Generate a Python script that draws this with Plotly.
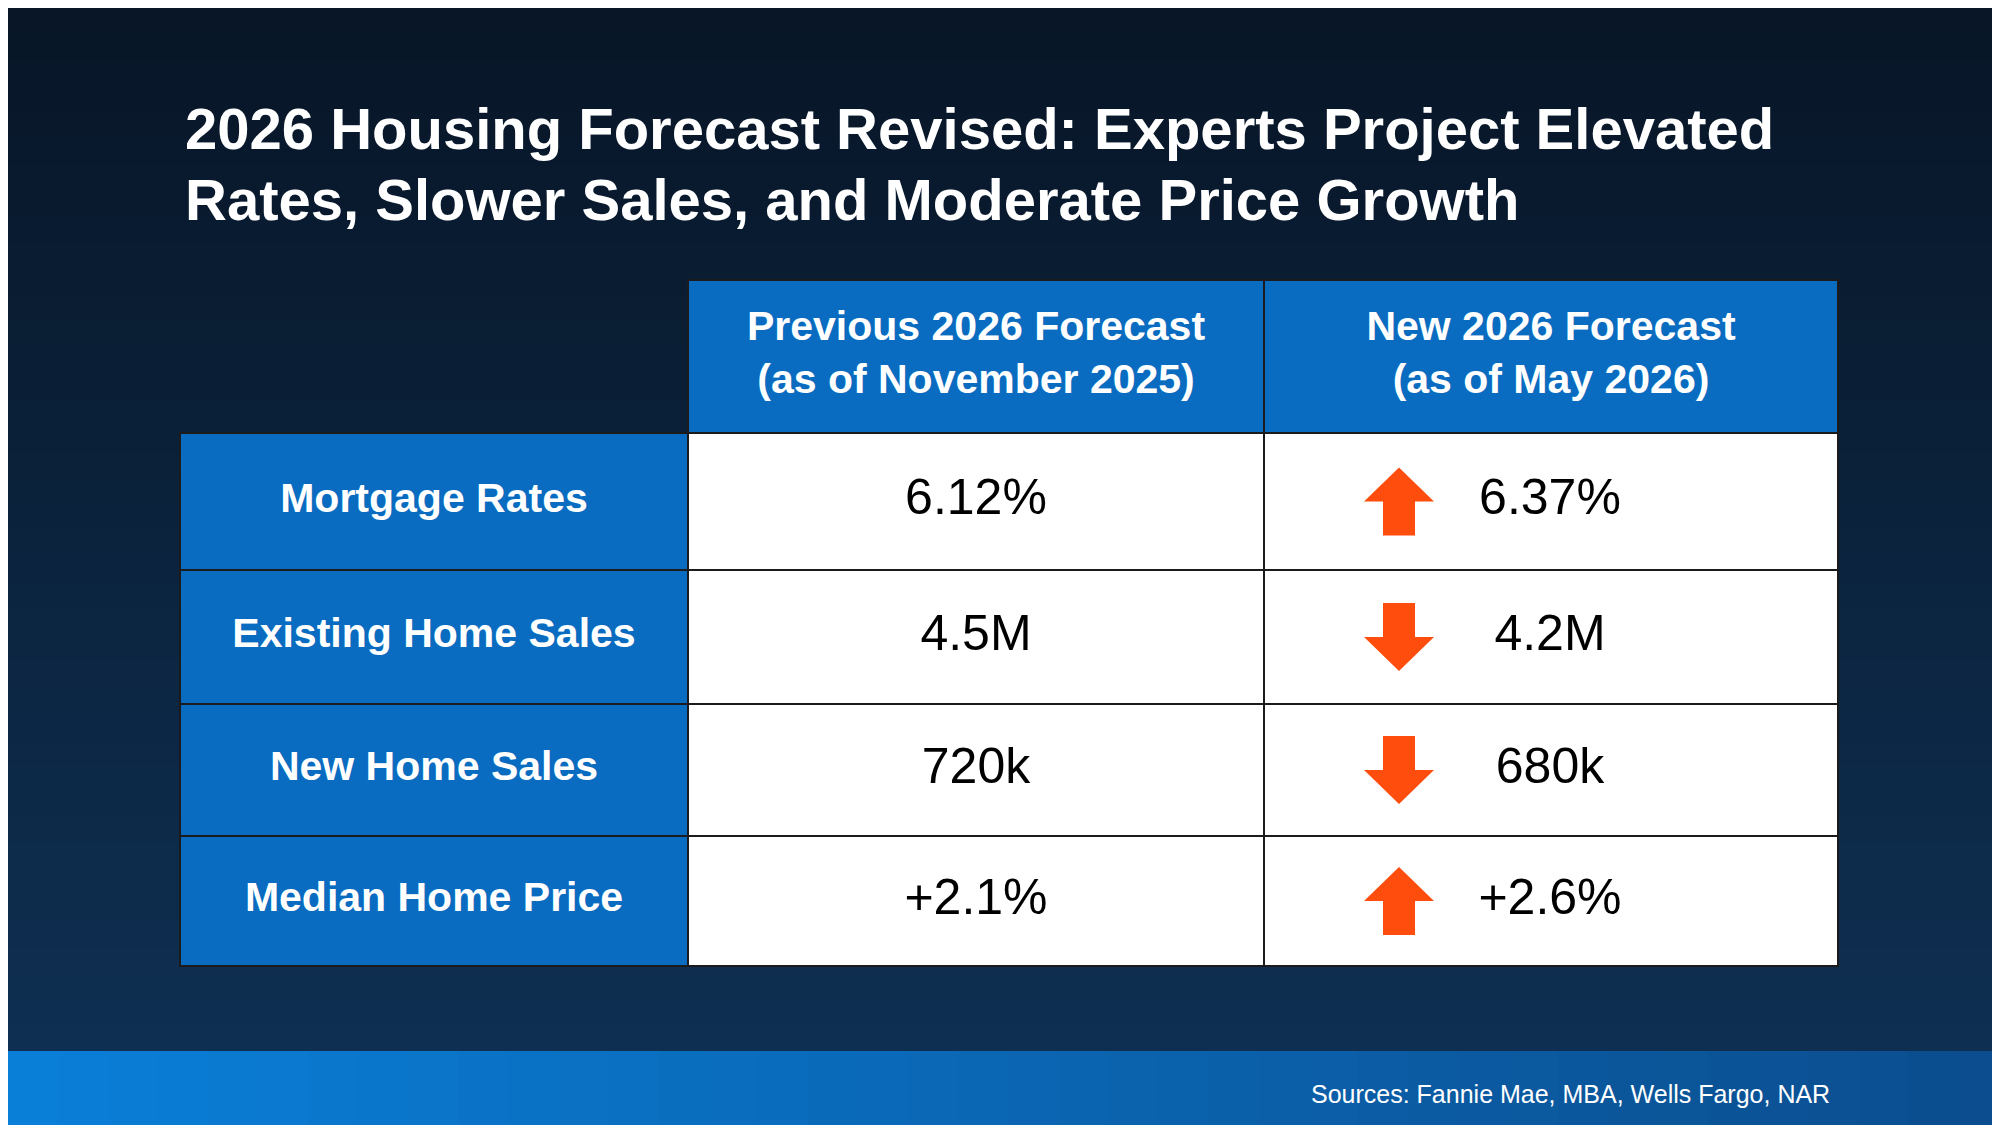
import plotly.graph_objects as go

title_lines = ["2026 Housing Forecast Revised: Experts Project Elevated",
               "Rates, Slower Sales, and Moderate Price Growth"]
headers = ["Previous 2026 Forecast<br>(as of November 2025)", "New 2026 Forecast<br>(as of May 2026)"]
categories = ["Mortgage Rates", "Existing Home Sales", "New Home Sales", "Median Home Price"]
previous = ["6.12%", "4.5M", "720k", "+2.1%"]
new = ["6.37%", "4.2M", "680k", "+2.6%"]
direction = ["up", "down", "down", "up"]
source = "Sources: Fannie Mae, MBA, Wells Fargo, NAR"

W, H = 2000, 1125
xe = [172, 680, 1256, 1830]
ye = [272, 425, 562, 696, 828, 958]
BLUE = "#0a6cc0"
ORANGE = "#ff4d0d"
FONT = "Liberation Sans, Arial"

def mix(c1, c2, t):
    a = [int(c1[i:i+2], 16) for i in (1, 3, 5)]
    b = [int(c2[i:i+2], 16) for i in (1, 3, 5)]
    return "#%02x%02x%02x" % tuple(round(a[k] + (b[k]-a[k])*t) for k in range(3))

shapes = []
n = 40
for i in range(n):
    y0 = 1043 * i / n; y1 = 1043 * (i + 1) / n + 1
    shapes.append(dict(type="rect", xref="x", yref="y", x0=0, x1=W, y0=y0, y1=y1,
                       fillcolor=mix("#081627", "#0e2f52", i / (n - 1)), line_width=0, layer="below"))
for i in range(n):
    x0 = W * i / n; x1 = W * (i + 1) / n + 1
    shapes.append(dict(type="rect", xref="x", yref="y", x0=x0, x1=x1, y0=1043, y1=H,
                       fillcolor=mix("#0a7fd8", "#0b4d8e", i / (n - 1)), line_width=0, layer="below"))
for c in (1, 2):
    shapes.append(dict(type="rect", x0=xe[c], x1=xe[c+1], y0=ye[0], y1=ye[1], fillcolor=BLUE,
                       line=dict(color="#1b1b1b", width=2), layer="below"))
for r in range(len(categories)):
    shapes.append(dict(type="rect", x0=xe[0], x1=xe[1], y0=ye[r+1], y1=ye[r+2], fillcolor=BLUE,
                       line=dict(color="#1b1b1b", width=2), layer="below"))
    for c in (1, 2):
        shapes.append(dict(type="rect", x0=xe[c], x1=xe[c+1], y0=ye[r+1], y1=ye[r+2], fillcolor="white",
                           line=dict(color="#1b1b1b", width=2), layer="below"))

fig = go.Figure()
hx = [(xe[1]+xe[2])/2, (xe[2]+xe[3])/2]
fig.add_trace(go.Scatter(x=hx, y=[(ye[0]+ye[1])/2]*2, mode="text", text=["<b>%s</b>" % h for h in headers],
                         textfont=dict(family=FONT, size=41, color="white"), hoverinfo="skip"))
ry = [(ye[i+1]+ye[i+2])/2 for i in range(len(categories))]
fig.add_trace(go.Scatter(x=[(xe[0]+xe[1])/2]*4, y=ry, mode="text", text=["<b>%s</b>" % c for c in categories],
                         textfont=dict(family=FONT, size=41, color="white"), hoverinfo="skip"))
fig.add_trace(go.Scatter(x=[hx[0]]*4, y=ry, mode="text", text=previous,
                         textfont=dict(family=FONT, size=50, color="black"), hoverinfo="skip"))
fig.add_trace(go.Scatter(x=[1542]*4, y=ry, mode="text", text=new,
                         textfont=dict(family=FONT, size=50, color="black"), hoverinfo="skip"))

# arrows: polygon outline relative to row centre (geometry is style; position from data)
AX = 1391
hw, sw, hh = 35, 16, 34  # half width head, half width stem, half height total
up_shape = [(0, -hh), (hw, 0), (sw, 0), (sw, hh), (-sw, hh), (-sw, 0), (-hw, 0), (0, -hh)]
for yc, d in zip(ry, direction):
    sgn = 1 if d == "up" else -1
    fig.add_trace(go.Scatter(x=[AX + px for px, py in up_shape], y=[yc + sgn * py for px, py in up_shape],
                             mode="lines", fill="toself", fillcolor=ORANGE, line=dict(width=0, color=ORANGE),
                             hoverinfo="skip"))

for i, ty in enumerate([121, 191]):
    fig.add_annotation(x=0.0875, y=1 - ty/H, xref="paper", yref="paper", xanchor="left", yanchor="middle",
                       text="<b>%s</b>" % title_lines[i], showarrow=False,
                       font=dict(family=FONT, size=58, color="white"))
fig.add_annotation(x=1824/W, y=1 - 1086/H, xref="paper", yref="paper", xanchor="right", yanchor="middle",
                   text=source, showarrow=False, font=dict(family=FONT, size=25, color="white"))

fig.update_layout(width=W, height=H, margin=dict(l=0, r=0, t=0, b=0), showlegend=False,
                  shapes=shapes, paper_bgcolor="#0b223d", plot_bgcolor="#0b223d",
                  xaxis=dict(range=[0, W], visible=False, fixedrange=True),
                  yaxis=dict(range=[H, 0], visible=False, fixedrange=True))
fig.write_html("out.html", config={"displayModeBar": False})
